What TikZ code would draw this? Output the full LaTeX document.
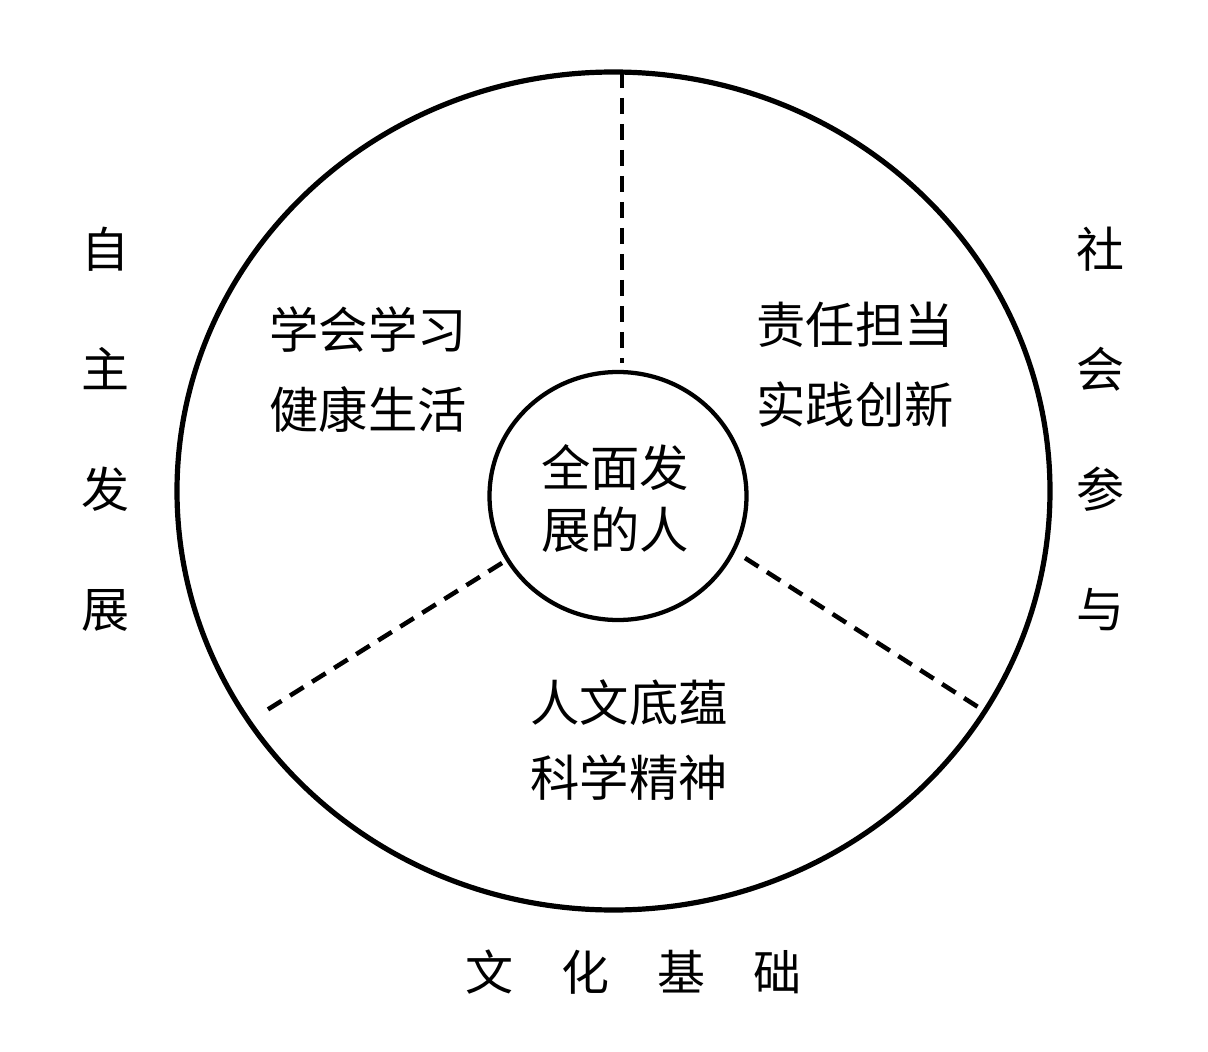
\documentclass[tikz,border=0pt]{standalone}
\usepackage{fontspec}
\setmainfont{Noto Sans CJK SC}
\usetikzlibrary{shapes.geometric}
\begin{document}
\begin{tikzpicture}[x=0.75pt,y=-0.75pt,
  ring/.style={draw=black, ellipse, inner sep=0pt, outer sep=0pt},
  divider/.style={draw=black, line width=3.4pt, dash pattern=on 12pt off 7.5pt},
  lbl/.style={font=\fontsize{37pt}{60pt}\selectfont, align=center, inner sep=0pt},
  side/.style={font=\fontsize{36pt}{90pt}\selectfont, align=center, inner sep=0pt}]
\useasboundingbox (0,0) rectangle (1208,1052);
\node[ring, line width=3.9pt, minimum width=654.75pt, minimum height=628.5pt] (outer) at (613.5,491) {};
\node[ring, line width=3.2pt, minimum width=192.75pt, minimum height=186pt] (inner) at (618,496) {};
\coordinate (t0) at (622,72);
\coordinate (t1) at (622,363);
\coordinate (l0) at (502,563);
\coordinate (l1) at (267,710);
\coordinate (r0) at (745,558);
\coordinate (r1) at (978,707);
\draw[divider] (t0) -- (t1);
\draw[divider] (l0) -- (l1);
\draw[divider] (r0) -- (r1);
\node[lbl, font=\fontsize{37pt}{46.5pt}\selectfont] (core) at (615,499) {全面发\\展的人};
\node[lbl] (self) at (368,370) {学会学习\\健康生活};
\node[lbl] (soc) at (855,365) {责任担当\\实践创新};
\node[lbl, font=\fontsize{37pt}{56pt}\selectfont] (cult) at (629,740) {人文底蕴\\科学精神};
\node[side] (left) at (105,429) {自\\主\\发\\展};
\node[side] (right) at (1100,429) {社\\会\\参\\与};
\node[side] (bottom) at (633,972) {文\hspace{1em}化\hspace{1em}基\hspace{1em}础};
\end{tikzpicture}
\end{document}
